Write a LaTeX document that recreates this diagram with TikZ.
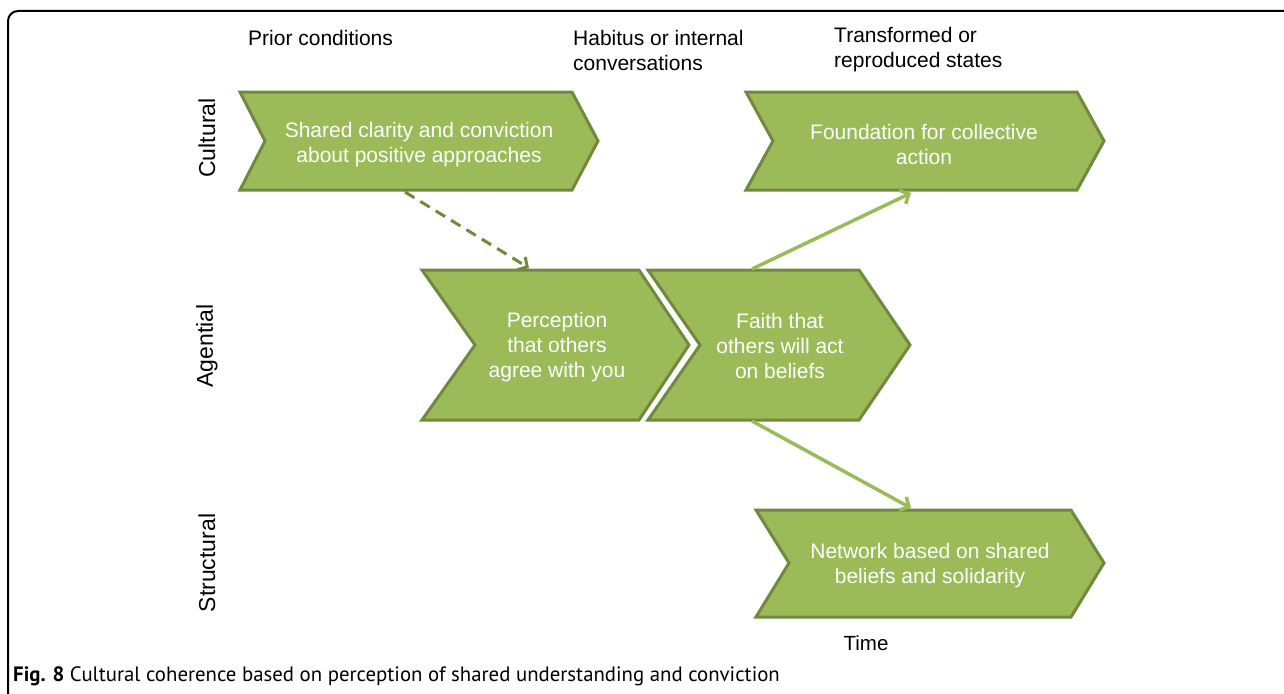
\documentclass[tikz,border=0pt]{standalone}
\usepackage{fontspec}
\setmainfont{Liberation Sans}
\newfontfamily\capfont{PT Sans}
\usetikzlibrary{arrows.meta}
\definecolor{chfill}{HTML}{9BBB59}
\definecolor{chline}{HTML}{71893F}
\definecolor{arrlight}{HTML}{9BBB59}
\definecolor{arrdark}{HTML}{6E8A3C}
\begin{document}
\begin{tikzpicture}[x=1pt,y=-1pt,
  chev/.style={fill=chfill, draw=chline, line width=3pt, line join=miter},
  ctext/.style={text=white, align=center, inner sep=0pt, font=\fontsize{21}{25}\selectfont},
  toplabel/.style={anchor=west, align=left, inner sep=0pt, font=\fontsize{21}{25}\selectfont},
  rowlabel/.style={rotate=90, inner sep=0pt, font=\fontsize{23}{27}\selectfont},
  dasharrow/.style={draw=arrdark, line width=3pt, dash pattern=on 11pt off 7pt, -{Straight Barb[length=7pt,width=15pt]}},
  solidarrow/.style={draw=arrlight, line width=3.5pt, -{Straight Barb[length=7pt,width=15pt]}}]
\clip (0,0) rectangle (1284,693);
\fill[white] (0,0) rectangle (1284,693);
% frame
\draw[line width=2pt, rounded corners=10pt] (8,11) rectangle (1310,710);
% top labels
\node[toplabel] (prior) at (248,38) {Prior conditions};
\node[toplabel] (habitus) at (573,50.5) {Habitus or internal\\conversations};
\node[toplabel] (transf) at (834,49.5) {Transformed or\\reproduced states};
% row labels
\node[rowlabel] (cultural) at (207,138) {Cultural};
\node[rowlabel] (agential) at (207,346) {Agential};
\node[rowlabel] (structural) at (207,563) {Structural};
% chevrons
\draw[chev] (240,92) -- (572,92) -- (598,141) -- (572,190) -- (240,190) -- (265,141) -- cycle;
\node[ctext] (shared) at (419,145) {Shared clarity and conviction\\about positive approaches};
\draw[chev] (746,92) -- (1077,92) -- (1104,141) -- (1077,190) -- (746,190) -- (773,141) -- cycle;
\node[ctext] (found) at (924,144) {Foundation for collective\\action};
\draw[chev] (422,270) -- (639,270) -- (689,345) -- (639,420) -- (422,420) -- (475,345) -- cycle;
\node[ctext] (percep) at (557,347) {Perception\\that others\\agree with you};
\draw[chev] (648,270) -- (859,270) -- (910,345) -- (859,420) -- (648,420) -- (700,345) -- cycle;
\node[ctext] (faith) at (780,346) {Faith that\\others will act\\on beliefs};
\draw[chev] (756,510) -- (1071,510) -- (1104,563) -- (1071,617) -- (756,617) -- (789,563) -- cycle;
\node[ctext] (network) at (930,566) {Network based on shared\\beliefs and solidarity};
% time
\node[inner sep=0pt, font=\fontsize{20.5}{24}\selectfont] (time) at (866,643) {Time};
% connector end points
\coordinate (sharedB) at (405,192);
\coordinate (percepT) at (529,268);
\coordinate (faithT) at (752,269);
\coordinate (foundB) at (911,193);
\coordinate (faithB) at (752,421);
\coordinate (networkT) at (911,508);
\draw[dasharrow] (sharedB) -- (percepT);
\draw[solidarrow] (faithT) -- (foundB);
\draw[solidarrow] (faithB) -- (networkT);
% caption
\node[anchor=west, inner sep=0pt, font=\capfont\fontsize{20.8}{24}\selectfont] (caption) at (13,676) {\textbf{Fig. 8} Cultural coherence based on perception of shared understanding and conviction};
\end{tikzpicture}
\end{document}
